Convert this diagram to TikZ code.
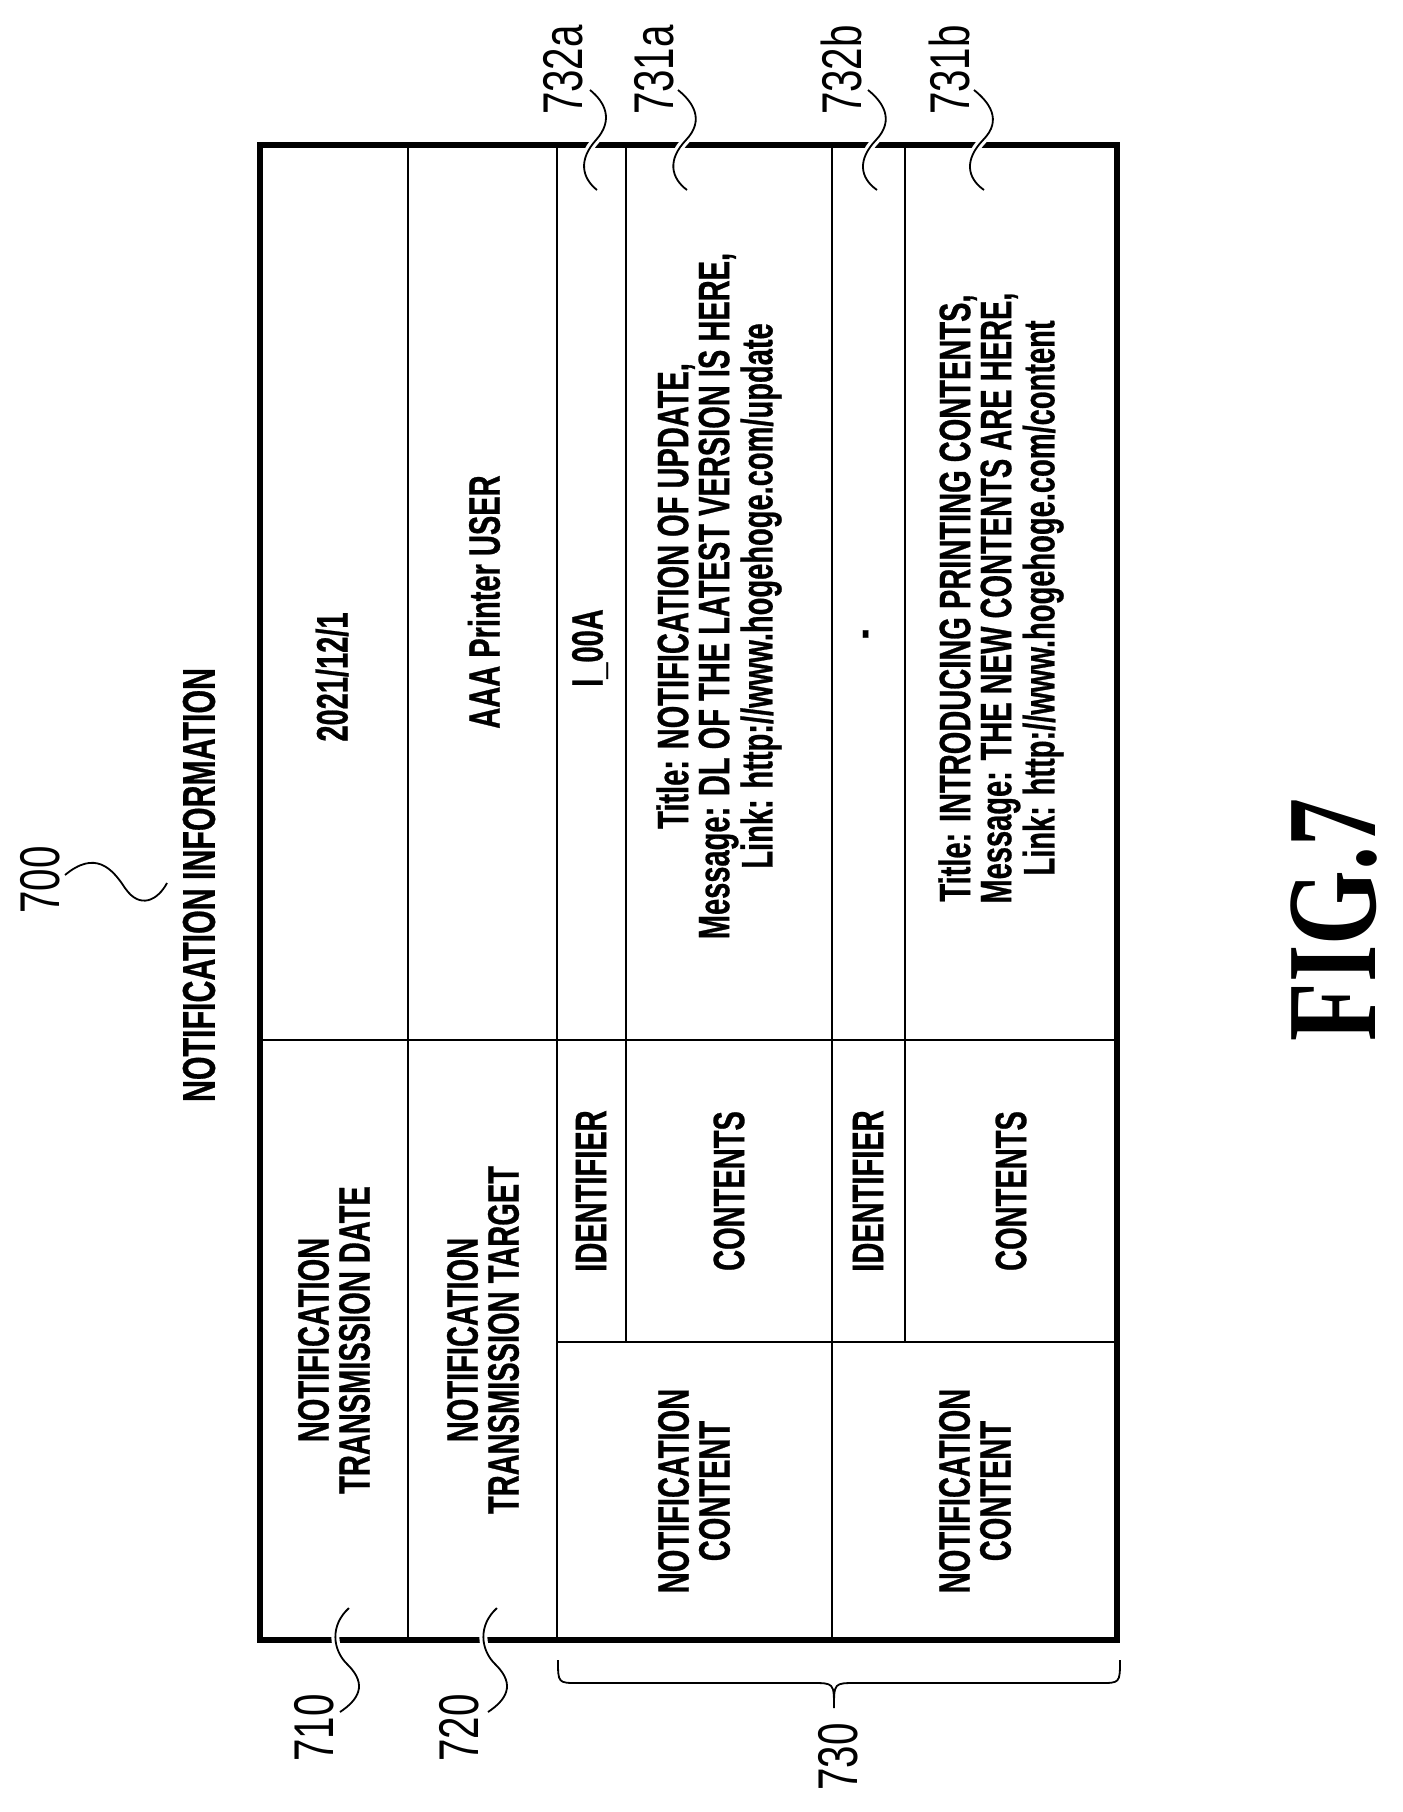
\documentclass[tikz,border=0pt]{standalone}
\usepackage{fontspec}
\setmainfont{Liberation Sans}[FakeStretch=0.66,BoldFeatures={FakeBold=0.6}]
\newfontfamily\labfont{Liberation Sans}[FakeStretch=0.72]
\newfontfamily\figfont{Liberation Serif}[FakeStretch=0.75]
\begin{document}
\begin{tikzpicture}[x=0.5pt,y=-0.5pt,
  txt/.style={rotate=90,align=center,inner sep=0pt,font=\fontsize{22}{20.5}\selectfont\bfseries},
  lab/.style={rotate=90,inner sep=0pt,font=\fontsize{28}{30}\selectfont\labfont},
  thin/.style={line width=1pt},
  thick/.style={line width=3pt},
  lead/.style={line width=0.9pt,preaction={draw=white,line width=4pt}}]
\useasboundingbox (0,0) rectangle (1403,1812);
% inner lines
\draw[thin] (260,1040) -- (1117,1040);
\draw[thin] (557,1342) -- (1117,1342);
\draw[thin] (408,145) -- (408,1640);
\draw[thin] (557,145) -- (557,1640);
\draw[thin] (832,145) -- (832,1640);
\draw[thin] (626,145) -- (626,1342);
\draw[thin] (905,145) -- (905,1342);
\draw[thick] (260,145) rectangle (1117,1640);
% title
\node[txt,font=\fontsize{23}{22}\selectfont\bfseries] (title) at (199,885) {NOTIFICATION INFORMATION};
\node[lab] (l700) at (40,880) {700};
% headers
\node[txt] (h1) at (334,1340) {NOTIFICATION\\TRANSMISSION DATE};
\node[txt] (h2) at (483,1340) {NOTIFICATION\\TRANSMISSION TARGET};
\node[txt] (h3) at (694,1491) {NOTIFICATION\\CONTENT};
\node[txt] (h4) at (975,1491) {NOTIFICATION\\CONTENT};
\node[txt] (s1) at (591,1191) {IDENTIFIER};
\node[txt] (s2) at (729,1191) {CONTENTS};
\node[txt] (s3) at (868,1191) {IDENTIFIER};
\node[txt] (s4) at (1011,1191) {CONTENTS};
% values
\node[txt] (v1) at (332,677) {2021/12/1};
\node[txt] (v2) at (484,602) {AAA Printer USER};
\node[txt] (v3) at (590,648) {I\_00A};
\node[txt] (v4) at (719,596) {Title: NOTIFICATION OF UPDATE,\\Message: DL OF THE LATEST VERSION IS HERE,\\Link: http://www.hogehoge.com/update};
\node[txt] (v5) at (870,634) {-};
\node[txt] (v6) at (1001,598) {Title: INTRODUCING PRINTING CONTENTS,\\Message: THE NEW CONTENTS ARE HERE,\\Link: http://www.hogehoge.com/content};
% labels
\node[lab] (l732a) at (563,70) {732a};
\node[lab] (l731a) at (654,70) {731a};
\node[lab] (l732b) at (841,70) {732b};
\node[lab] (l731b) at (949,70) {731b};
\node[lab] (l710) at (314,1728) {710};
\node[lab] (l720) at (459,1728) {720};
\node[lab] (l730) at (838,1757) {730};
\node[rotate=90,inner sep=0pt,font=\fontsize{64}{64}\selectfont\figfont\bfseries] (fig) at (1334,920) {FIG.7};
% leaders
\draw[lead] (65,875) .. controls (95,850) and (112,868) .. (125,888) .. controls (140,910) and (158,900) .. (167,883);
\draw[lead] (590,90) .. controls (605,102) and (614,120) .. (596,140) .. controls (578,160) and (582,178) .. (597,190);
\draw[lead] (678,90) .. controls (693,102) and (705,120) .. (686,140) .. controls (667,160) and (671,178) .. (687,190);
\draw[lead] (868,90) .. controls (883,102) and (895,120) .. (876,140) .. controls (857,160) and (860,178) .. (877,190);
\draw[lead] (974,90) .. controls (989,102) and (1003,120) .. (983,140) .. controls (964,160) and (967,178) .. (984,190);
\draw[lead] (349,1608) .. controls (330,1625) and (332,1650) .. (348,1665) .. controls (368,1685) and (358,1700) .. (340,1712);
\draw[lead] (497,1608) .. controls (478,1625) and (480,1650) .. (496,1665) .. controls (516,1685) and (506,1700) .. (488,1712);
% brace
\draw[line width=0.9pt] (558,1660) .. controls (558,1683) .. (578,1683) -- (812,1683) .. controls (834,1683) .. (834,1708)
  .. controls (834,1683) .. (856,1683) -- (1100,1683) .. controls (1120,1683) .. (1120,1660);
\end{tikzpicture}
\end{document}
